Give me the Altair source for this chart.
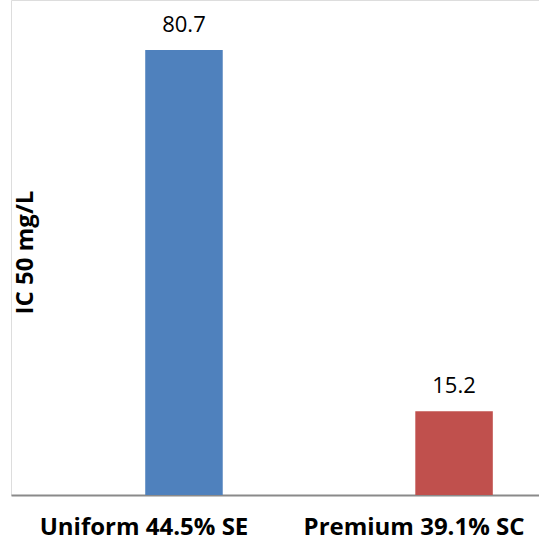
import altair as alt
import pandas as pd

categories = ["Uniform 44.5% SE", "Premium 39.1% SC"]
values = [80.7, 15.2]
labels = ["80.7", "15.2"]
colors = ["#4F81BD", "#C0504D"]

df = pd.DataFrame({"cat": categories, "val": values, "lab": labels, "col": colors})

x = alt.X(
    "cat:N",
    sort=categories,
    scale=alt.Scale(paddingInner=0.713, paddingOuter=0.334, align=0.744),
    axis=alt.Axis(
        title=None,
        labelAngle=0,
        labelFont="Open Sans",
        labelFontWeight="bold",
        labelFontSize=24,
        labelColor="#000000",
        labelBaseline="alphabetic",
        labelPadding=39,
        labelOffset=-40,
        labelLimit=0,
        labelOverlap=False,
        labelBound=False,
        ticks=False,
        tickSize=0,
        domainColor="#8a8a8a",
        domainWidth=2,
        grid=False,
    ),
)
y = alt.Y(
    "val:Q",
    scale=alt.Scale(domain=[0, 89.77], nice=False),
    axis=alt.Axis(
        title="IC 50 mg/L",
        titleFont="Open Sans",
        titleFontWeight="bold",
        titleFontSize=24,
        titleColor="#000000",
        titleAngle=270,
        titleAlign="center",
        titleBaseline="middle",
        titleX=14,
        titleY=252,
        labels=False,
        ticks=False,
        domain=False,
        grid=False,
    ),
)

bars = alt.Chart(df).mark_bar().encode(
    x=x, y=y, color=alt.Color("col:N", scale=None)
)
text = alt.Chart(df).mark_text(
    font="Open Sans", fontSize=22, color="#000000", baseline="alphabetic", dy=-18
).encode(x=alt.X("cat:N", sort=categories), y="val:Q", text="lab:N")

chart = (
    alt.layer(bars, text)
    .properties(
        width=528,
        height=495,
        autosize=alt.AutoSizeParams(type="none"),
        padding={"left": 11, "top": 0, "right": 0, "bottom": 48},
    )
    .configure_view(stroke=None)
    .configure(background="white")
)

chart.save("out.html", embed_options={"renderer": "svg", "actions": False})
